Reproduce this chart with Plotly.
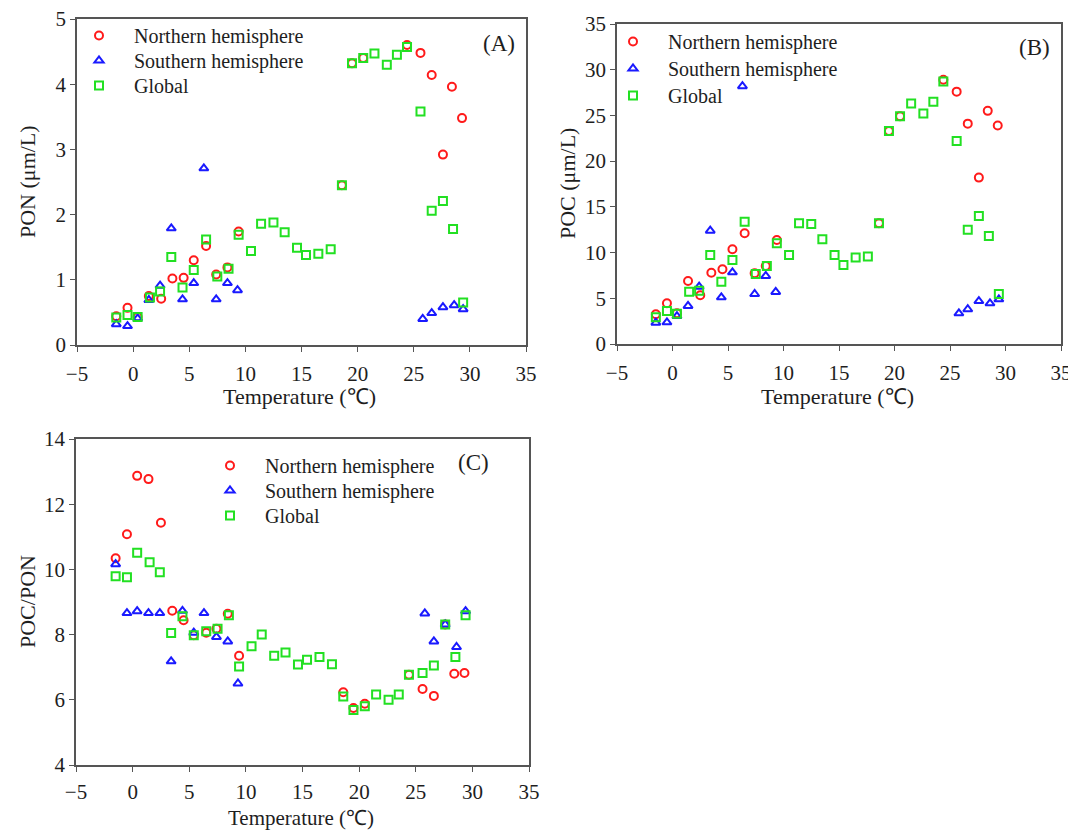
import plotly.graph_objects as go

# ---------------- data ----------------
temp_north = [-1.5, -0.5, 0.4, 1.4, 2.5, 3.5, 4.5, 5.4, 6.5, 7.4, 8.4, 9.4,
              18.6, 19.5, 20.5, 24.4, 25.6, 26.6, 27.6, 28.4, 29.3]
temp_south = [-1.5, -0.5, 0.4, 1.4, 2.4, 3.4, 4.4, 5.4, 6.3, 7.4, 8.4, 9.3,
              25.8, 26.6, 27.6, 28.6, 29.4]
temp_global = [-1.5, -0.5, 0.4, 1.5, 2.4, 3.4, 4.4, 5.4, 6.5, 7.5, 8.5, 9.4,
               10.5, 11.4, 12.5, 13.5, 14.6, 15.4, 16.5, 17.6, 18.6, 19.5,
               20.5, 21.5, 22.6, 23.5, 24.4, 25.6, 26.6, 27.6, 28.5, 29.4]

pon_north = [0.44, 0.57, 0.43, 0.75, 0.71, 1.02, 1.03, 1.30, 1.52, 1.08, 1.19, 1.74,
             2.45, 4.32, 4.40, 4.60, 4.48, 4.14, 2.92, 3.96, 3.48]
pon_south = [0.32, 0.29, 0.41, 0.69, 0.91, 1.79, 0.70, 0.95, 2.71, 0.70, 0.95, 0.84,
             0.40, 0.49, 0.58, 0.61, 0.55]
pon_global = [0.42, 0.46, 0.43, 0.73, 0.82, 1.35, 0.88, 1.15, 1.62, 1.05, 1.17, 1.69,
              1.44, 1.86, 1.88, 1.73, 1.49, 1.38, 1.40, 1.47, 2.45, 4.32, 4.40, 4.47,
              4.30, 4.45, 4.57, 3.58, 2.06, 2.21, 1.78, 0.65]

poc_north = [3.25, 4.45, 3.36, 6.89, 5.33, 7.80, 8.17, 10.36, 12.11, 7.73, 8.53, 11.38,
             13.2, 23.3, 24.9, 28.9, 27.6, 24.1, 18.2, 25.5, 23.9]
poc_south = [2.33, 2.37, 3.06, 4.16, 6.27, 12.4, 5.11, 7.84, 28.2, 5.47, 7.44, 5.69,
             3.36, 3.80, 4.70, 4.45, 4.89]
poc_global = [2.92, 3.61, 3.30, 5.72, 5.83, 9.74, 6.82, 9.19, 13.38, 7.66, 8.53, 11.02,
              9.74, 13.2, 13.13, 11.45, 9.74, 8.64, 9.45, 9.56, 13.2, 23.3, 24.9, 26.3,
              25.2, 26.5, 28.7, 22.2, 12.5, 14.0, 11.8, 5.47]

ratio_north = [10.34, 11.08, 12.87, 12.77, 11.43, 8.73, 8.44, 7.98, 8.06, 8.18, 8.64, 7.35,
               6.23, 5.75, 5.88, 6.77, 6.33, 6.12, 8.31, 6.80, 6.82]
ratio_south = [10.16, 8.66, 8.72, 8.66, 8.66, 7.18, 8.73, 8.06, 8.66, 7.93, 7.79, 6.50,
               8.65, 7.79, 8.31, 7.62, 8.72]
ratio_global = [9.79, 9.76, 10.51, 10.22, 9.91, 8.05, 8.56, 7.98, 8.10, 8.18, 8.59, 7.02,
                7.64, 8.00, 7.35, 7.45, 7.08, 7.23, 7.31, 7.09, 6.10, 5.69, 5.80, 6.16,
                6.00, 6.16, 6.77, 6.82, 7.05, 8.31, 7.31, 8.59]

series_names = ["Northern hemisphere", "Southern hemisphere", "Global"]
x_ticks = [-5, 0, 5, 10, 15, 20, 25, 30, 35]
y_ticks_pon = [0, 1, 2, 3, 4, 5]
y_ticks_poc = [0, 5, 10, 15, 20, 25, 30, 35]
y_ticks_ratio = [4, 6, 8, 10, 12, 14]
panel_labels = ["(A)", "(B)", "(C)"]
y_titles = ["PON (μm/L)", "POC (μm/L)", "POC/PON"]
x_title = "Temperature (℃)"

# ---------------- style ----------------
# the page body adds an 8px margin, so the figure is 8px smaller and all
# reference pixel positions are shifted by OFF
OFF = 8
W, H = 1076 - OFF, 830 - OFF
FONT = "Liberation Serif, Times New Roman, serif"
TXT = "#1e1e1e"
colors = ["#ff1a1a", "#1a1aff", "#22e022"]
symbols = ["circle-open", "triangle-up-open", "square-open"]
AX = "#555555"


def fx(px):
    return (px - OFF) / W


def fy(py):
    return 1 - (py - OFF) / H


fig = go.Figure()

panels = [
    dict(ys=[pon_north, pon_south, pon_global], yrange=[0, 5], yticks=y_ticks_pon,
         xdom=(77, 526), ydom=(19, 345),
         legend_marker_x=99, legend_rows=(36, 61, 86),
         label=(499, 43), xtitle_y=397, ytitle_x=28, xt_stand=4, xt_size=22),
    dict(ys=[poc_north, poc_south, poc_global], yrange=[0, 35], yticks=y_ticks_poc,
         xdom=(617, 1061), ydom=(24, 344),
         legend_marker_x=633, legend_rows=(42, 69, 96),
         label=(1034, 47), xtitle_y=396, ytitle_x=568, xt_stand=4, xt_size=22),
    dict(ys=[ratio_north, ratio_south, ratio_global], yrange=[4, 14], yticks=y_ticks_ratio,
         xdom=(76, 529), ydom=(439, 765),
         legend_marker_x=230, legend_rows=(466, 491, 516),
         label=(473, 462), xtitle_y=818, ytitle_x=27, xt_stand=2, xt_size=21),
]
temps = [temp_north, temp_south, temp_global]

ITEMW = 60
layout = dict(template="none", width=W, height=H, margin=dict(l=0, r=0, t=0, b=0),
              plot_bgcolor="white", paper_bgcolor="white",
              font=dict(family=FONT, color=TXT), showlegend=True)

axis_common = dict(showline=True, linecolor=AX, linewidth=1.5, mirror=True,
                   ticks="outside", ticklen=5, tickcolor=AX, tickwidth=1,
                   showgrid=False, zeroline=False, automargin=False,
                   ticklabeloverflow="allow",
                   tickfont=dict(family=FONT, size=21, color=TXT))

leg_n = 0
annotations = []
for k, p in enumerate(panels):
    sx = "" if k == 0 else str(k + 1)
    for i in range(3):
        leg_n += 1
        lname = "legend" if leg_n == 1 else "legend%d" % leg_n
        fig.add_trace(go.Scatter(
            x=temps[i], y=p["ys"][i], mode="markers", name=series_names[i],
            xaxis="x" + sx, yaxis="y" + sx, legend=lname,
            marker=dict(symbol=symbols[i], size=8, color=colors[i],
                        line=dict(width=2, color=colors[i])),
        ))
        layout[lname] = dict(bgcolor="rgba(0,0,0,0)",
                             font=dict(family=FONT, size=20, color=TXT),
                             itemwidth=ITEMW, xanchor="left", yanchor="top",
                             x=fx(p["legend_marker_x"] - 35),
                             y=fy(p["legend_rows"][i] - 20))
    layout["xaxis" + sx] = dict(axis_common, domain=[fx(p["xdom"][0]), fx(p["xdom"][1])],
                                range=[-5, 35], tickmode="array", tickvals=x_ticks,
                                anchor="y" + sx, ticklabelstandoff=p["xt_stand"])
    layout["yaxis" + sx] = dict(axis_common, domain=[fy(p["ydom"][1]), fy(p["ydom"][0])],
                                range=p["yrange"], tickmode="array", tickvals=p["yticks"],
                                anchor="x" + sx)
    annotations.append(dict(text=panel_labels[k], x=fx(p["label"][0]), y=fy(p["label"][1]),
                            xref="paper", yref="paper", xanchor="center", yanchor="middle",
                            showarrow=False, font=dict(family=FONT, size=23, color=TXT)))
    annotations.append(dict(text=x_title, x=fx((p["xdom"][0] + p["xdom"][1]) / 2 - 2),
                            y=fy(p["xtitle_y"]), xref="paper", yref="paper",
                            xanchor="center", yanchor="middle", showarrow=False,
                            font=dict(family=FONT, size=p["xt_size"], color=TXT)))
    annotations.append(dict(text=y_titles[k], x=fx(p["ytitle_x"]),
                            y=fy((p["ydom"][0] + p["ydom"][1]) / 2),
                            xref="paper", yref="paper", textangle=-90,
                            xanchor="center", yanchor="middle", showarrow=False,
                            font=dict(family=FONT, size=22, color=TXT)))

layout["annotations"] = annotations
fig.update_layout(**layout)

fig.write_html("out.html")
